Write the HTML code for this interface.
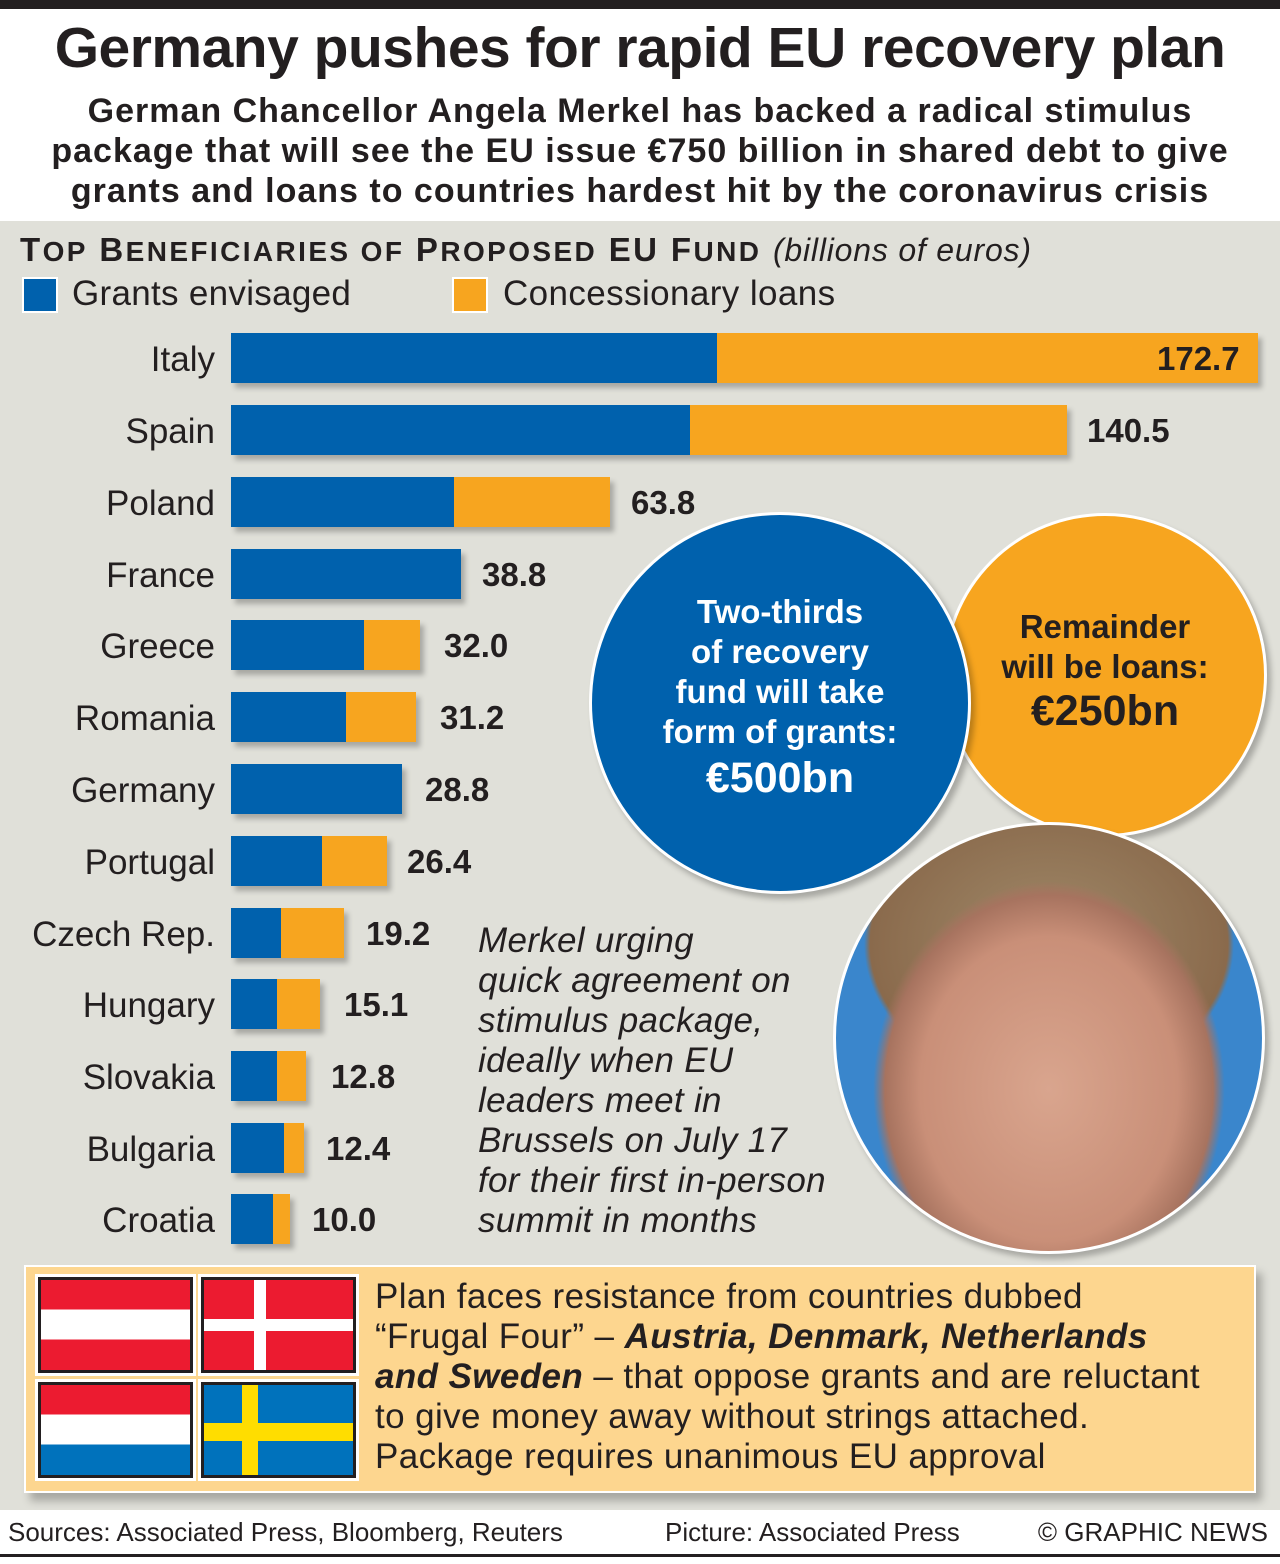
<!DOCTYPE html>
<html><head><style>
*{margin:0;padding:0;box-sizing:border-box}
body{width:1280px;height:1564px;position:relative;background:#fff;font-family:"Liberation Sans",Arial,sans-serif;color:#231f20;overflow:hidden}
.a{position:absolute}
.lbl{position:absolute;right:1065px;font-size:35px;text-align:right;white-space:nowrap}
.val{position:absolute;font-size:33px;font-weight:bold}
.bar{position:absolute;height:50px;box-shadow:4px 5px 5px rgba(0,0,0,0.25)}
.b{position:absolute;top:0;left:0;height:50px;background:#0061ad}
.o{position:absolute;top:0;height:50px;background:#f7a51f}
.flag{position:absolute;width:155px;height:96px;border:3px solid #231f20;outline:3px solid #fff;overflow:hidden}
</style></head><body>
<div class="a" style="left:0;top:0;width:1280px;height:9px;background:#231f20"></div>
<div class="a" style="left:0;top:15px;width:1280px;text-align:center;font-size:57px;font-weight:bold;letter-spacing:-0.5px">Germany pushes for rapid EU recovery plan</div>
<div class="a" style="left:0;top:91px;width:1280px;text-align:center;font-size:34px;font-weight:bold;line-height:40px;letter-spacing:1px;white-space:nowrap">German Chancellor Angela Merkel has backed a radical stimulus<br>package that will see the EU issue €750 billion in shared debt to give<br>grants and loans to countries hardest hit by the coronavirus crisis</div>
<div class="a" style="left:0;top:221px;width:1280px;height:1289px;background:#e0e0d9"></div>
<div class="a" style="left:20px;top:231px;font-size:33px;font-weight:bold;white-space:nowrap;letter-spacing:2.4px">T<span style="font-size:28px">OP</span> B<span style="font-size:28px">ENEFICIARIES OF</span> P<span style="font-size:28px">ROPOSED</span> EU F<span style="font-size:28px">UND</span> <span style="font-weight:normal;font-style:italic;font-size:32px;letter-spacing:0.8px">(billions of euros)</span></div>
<div class="a" style="left:22px;top:277px;width:36px;height:36px;background:#0061ad;border:2px solid #fff"></div>
<div class="a" style="left:72px;top:274px;font-size:35px;letter-spacing:0.3px">Grants envisaged</div>
<div class="a" style="left:452px;top:277px;width:36px;height:36px;background:#f7a51f;border:2px solid #fff"></div>
<div class="a" style="left:503px;top:274px;font-size:35px;letter-spacing:0.4px">Concessionary loans</div>

<div class="lbl" style="top:340px">Italy</div><div class="bar" style="left:231px;top:333px;width:1027px"><div class="b" style="width:486px"></div><div class="o" style="left:486px;width:541px"></div></div><div class="val" style="left:1157px;top:340px">172.7</div>
<div class="lbl" style="top:412px">Spain</div><div class="bar" style="left:231px;top:405px;width:836px"><div class="b" style="width:459px"></div><div class="o" style="left:459px;width:377px"></div></div><div class="val" style="left:1087px;top:412px">140.5</div>
<div class="lbl" style="top:484px">Poland</div><div class="bar" style="left:231px;top:477px;width:379px"><div class="b" style="width:223px"></div><div class="o" style="left:223px;width:156px"></div></div><div class="val" style="left:631px;top:484px">63.8</div>
<div class="lbl" style="top:556px">France</div><div class="bar" style="left:231px;top:549px;width:230px"><div class="b" style="width:230px"></div></div><div class="val" style="left:482px;top:556px">38.8</div>
<div class="lbl" style="top:627px">Greece</div><div class="bar" style="left:231px;top:620px;width:189px"><div class="b" style="width:133px"></div><div class="o" style="left:133px;width:56px"></div></div><div class="val" style="left:444px;top:627px">32.0</div>
<div class="lbl" style="top:699px">Romania</div><div class="bar" style="left:231px;top:692px;width:185px"><div class="b" style="width:115px"></div><div class="o" style="left:115px;width:70px"></div></div><div class="val" style="left:440px;top:699px">31.2</div>
<div class="lbl" style="top:771px">Germany</div><div class="bar" style="left:231px;top:764px;width:171px"><div class="b" style="width:171px"></div></div><div class="val" style="left:425px;top:771px">28.8</div>
<div class="lbl" style="top:843px">Portugal</div><div class="bar" style="left:231px;top:836px;width:156px"><div class="b" style="width:91px"></div><div class="o" style="left:91px;width:65px"></div></div><div class="val" style="left:407px;top:843px">26.4</div>
<div class="lbl" style="top:915px">Czech Rep.</div><div class="bar" style="left:231px;top:908px;width:113px"><div class="b" style="width:50px"></div><div class="o" style="left:50px;width:63px"></div></div><div class="val" style="left:366px;top:915px">19.2</div>
<div class="lbl" style="top:986px">Hungary</div><div class="bar" style="left:231px;top:979px;width:89px"><div class="b" style="width:46px"></div><div class="o" style="left:46px;width:43px"></div></div><div class="val" style="left:344px;top:986px">15.1</div>
<div class="lbl" style="top:1058px">Slovakia</div><div class="bar" style="left:231px;top:1051px;width:75px"><div class="b" style="width:46px"></div><div class="o" style="left:46px;width:29px"></div></div><div class="val" style="left:331px;top:1058px">12.8</div>
<div class="lbl" style="top:1130px">Bulgaria</div><div class="bar" style="left:231px;top:1123px;width:73px"><div class="b" style="width:53px"></div><div class="o" style="left:53px;width:20px"></div></div><div class="val" style="left:326px;top:1130px">12.4</div>
<div class="lbl" style="top:1201px">Croatia</div><div class="bar" style="left:231px;top:1194px;width:59px"><div class="b" style="width:42px"></div><div class="o" style="left:42px;width:17px"></div></div><div class="val" style="left:312px;top:1201px">10.0</div>

<div class="a" style="left:943px;top:513px;width:324px;height:324px;border-radius:50%;background:#f7a51f;border:3px solid #fff;box-shadow:4px 5px 6px rgba(0,0,0,0.25)"></div>
<div class="a" style="left:950px;top:607px;width:310px;text-align:center;font-size:33px;font-weight:bold;line-height:40px">Remainder<br>will be loans:<br><span style="font-size:43px;line-height:48px">€250bn</span></div>
<div class="a" style="left:589px;top:512px;width:382px;height:382px;border-radius:50%;background:#0061ad;border:3px solid #fff;box-shadow:4px 5px 6px rgba(0,0,0,0.25)"></div>
<div class="a" style="left:589px;top:592px;width:382px;text-align:center;font-size:33px;font-weight:bold;line-height:40px;color:#fff">Two-thirds<br>of recovery<br>fund will take<br>form of grants:<br><span style="font-size:43px;line-height:52px">€500bn</span></div>
<div class="a" style="left:833px;top:822px;width:432px;height:432px;border-radius:50%;border:3px solid #fff;background:radial-gradient(ellipse 55% 65% at 50% 62%,#d9a58e 0%,#c98f78 55%,#a7735f 70%,rgba(167,115,95,0) 75%),radial-gradient(ellipse 70% 55% at 50% 28%,#a08a6a 0%,#8a6a4c 60%,rgba(0,0,0,0) 62%),#3a86cc;box-shadow:4px 5px 6px rgba(0,0,0,0.25)"></div>
<div class="a" style="left:478px;top:921px;font-size:35px;font-style:italic;line-height:40px;letter-spacing:0.3px">Merkel urging<br>quick agreement on<br>stimulus package,<br>ideally when EU<br>leaders meet in<br>Brussels on July 17<br>for their first in-person<br>summit in months</div>

<div class="a" style="left:24px;top:1265px;width:1232px;height:228px;background:#fdd68f;border:2px solid #fff;box-shadow:6px 8px 8px rgba(0,0,0,0.25)"></div>
<div class="flag" style="left:38px;top:1277px;background:linear-gradient(#ec1b30 0 33%,#fff 33% 66%,#ec1b30 66%)"></div>
<div class="flag" style="left:201px;top:1277px;background:#ec1b30"><div class="a" style="left:50px;top:0;width:12px;height:96px;background:#fff"></div><div class="a" style="left:0;top:39px;width:155px;height:12px;background:#fff"></div></div>
<div class="flag" style="left:38px;top:1382px;background:linear-gradient(#ec1b30 0 33%,#fff 33% 66%,#0072bc 66%)"></div>
<div class="flag" style="left:201px;top:1382px;background:#0072bc"><div class="a" style="left:38px;top:0;width:16px;height:96px;background:#ffdd00"></div><div class="a" style="left:0;top:38px;width:155px;height:18px;background:#ffdd00"></div></div>
<div class="a" style="left:375px;top:1277px;font-size:35px;line-height:40px;white-space:nowrap;letter-spacing:0.4px">Plan faces resistance from countries dubbed<br>“Frugal Four” – <b><i>Austria, Denmark, Netherlands</i></b><br><b><i>and Sweden</i></b> – that oppose grants and are reluctant<br>to give money away without strings attached.<br>Package requires unanimous EU approval</div>

<div class="a" style="left:8px;top:1517px;font-size:26px">Sources: Associated Press, Bloomberg, Reuters</div>
<div class="a" style="left:665px;top:1517px;font-size:26px">Picture: Associated Press</div>
<div class="a" style="right:12px;top:1517px;font-size:26px">© GRAPHIC NEWS</div>
<div class="a" style="left:0;top:1554px;width:1280px;height:3px;background:#231f20"></div>
</body></html>
